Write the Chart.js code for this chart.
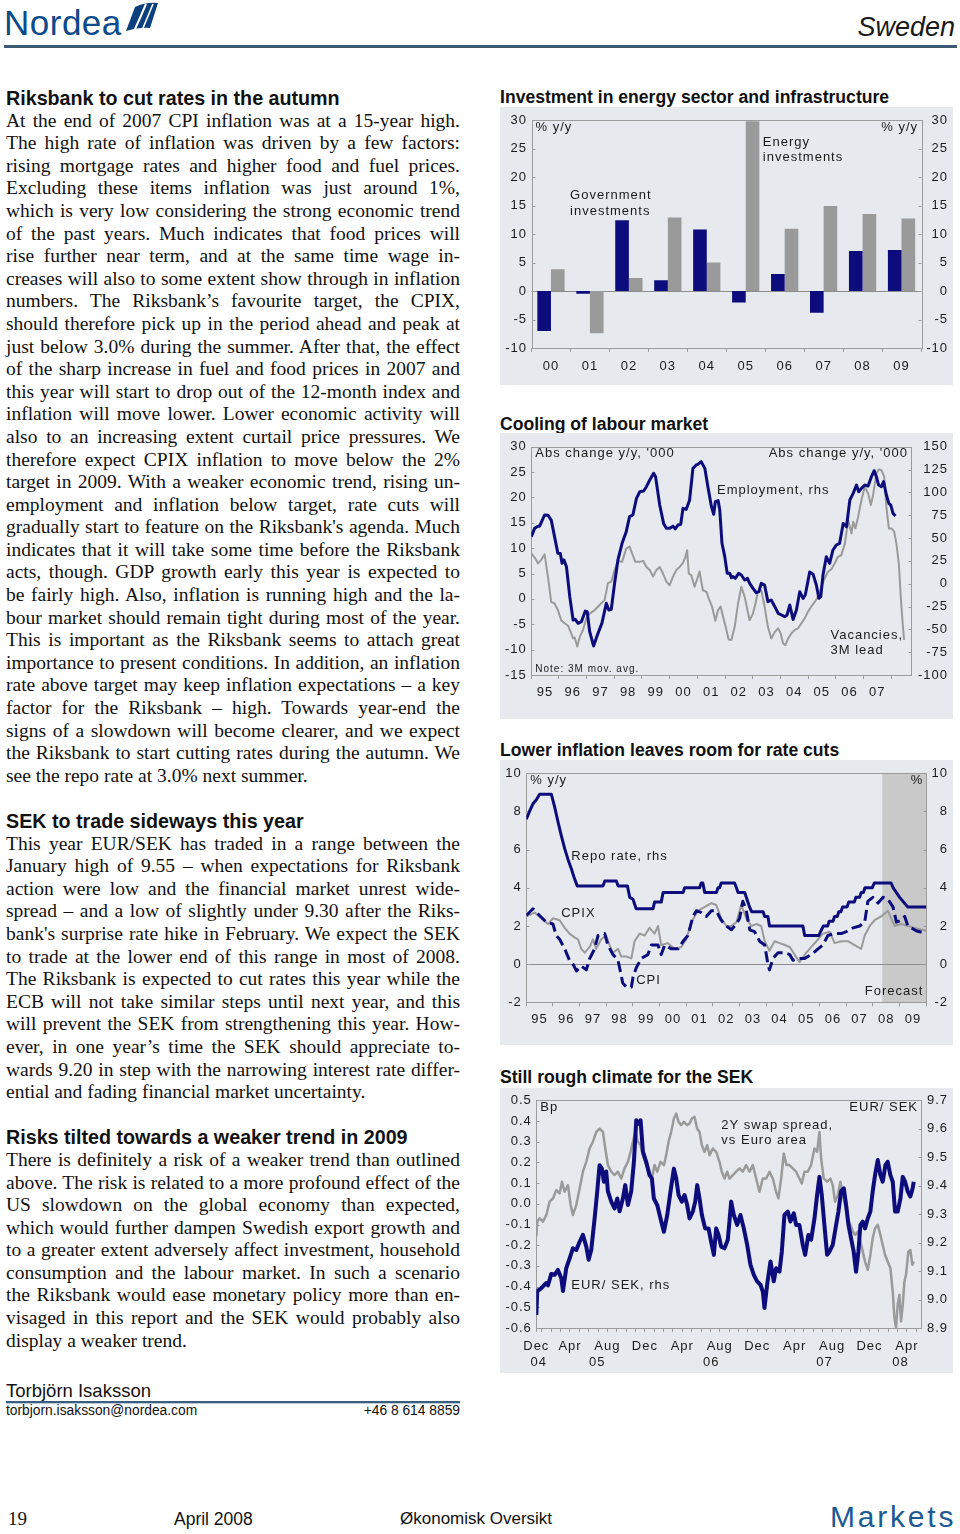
<!DOCTYPE html>
<html>
<head>
<meta charset="utf-8">
<script src="https://cdn.jsdelivr.net/npm/chart.js"></script>
<style>
  body { margin: 0; width: 960px; height: 1534px; background: #fff; position: relative; overflow: hidden; }
  .abs { position: absolute; white-space: nowrap; }
  #col { position: absolute; left: 6px; top: 87px; width: 454px; color: #111;
         font: 19.5px/22.6px "Liberation Serif", "Times New Roman", serif; }
  #col .h { font: bold 19.7px/22.6px "Liberation Sans", Arial, sans-serif; }
  #col .j { text-align: justify; text-align-last: justify; }
  #col .gap { height: 22.6px; }
  .panel { position: absolute; left: 500px; width: 453px; background: #e6e9ee; }
  .panel canvas { display: block; }
  .ctitle { position: absolute; left: 500px; font: bold 17.6px/22px "Liberation Sans", Arial, sans-serif; color: #111; }
  .sans { font-family: "Liberation Sans", Arial, sans-serif; }
</style>
</head>
<body>

<!-- header -->
<div class="abs sans" style="left:4px;top:6px;font-size:35px;line-height:34px;color:#0b4a8b;letter-spacing:0.5px">Nordea</div>
<svg class="abs" style="left:124px;top:2px" width="36" height="32" viewBox="0 0 36 32">
  <path d="M2 29 L11 5 Q22 0 34 1 L26 26 Q14 25 2 29 Z" fill="#0b3f7e"/>
  <path d="M11 27 Q17 14 22 2" stroke="#fff" stroke-width="2" fill="none"/>
  <path d="M19 26 Q24 14 29 2" stroke="#fff" stroke-width="1.6" fill="none"/>
</svg>
<div class="abs sans" style="right:5px;top:12px;font-size:27px;line-height:30px;font-style:italic;color:#1a1a1a">Sweden</div>
<div class="abs" style="left:4px;top:45px;width:953px;height:3px;background:#3d5b76"></div>

<!-- text column -->
<div id="col">
  <div class="h">Riksbank to cut rates in the autumn</div>
  <div class="j">At the end of 2007 CPI inflation was at a 15-year high.</div>
  <div class="j">The high rate of inflation was driven by a few factors:</div>
  <div class="j">rising mortgage rates and higher food and fuel prices.</div>
  <div class="j">Excluding these items inflation was just around 1%,</div>
  <div class="j">which is very low considering the strong economic trend</div>
  <div class="j">of the past years. Much indicates that food prices will</div>
  <div class="j">rise further near term, and at the same time wage in-</div>
  <div class="j">creases will also to some extent show through in inflation</div>
  <div class="j">numbers. The Riksbank’s favourite target, the CPIX,</div>
  <div class="j">should therefore pick up in the period ahead and peak at</div>
  <div class="j">just below 3.0% during the summer. After that, the effect</div>
  <div class="j">of the sharp increase in fuel and food prices in 2007 and</div>
  <div class="j">this year will start to drop out of the 12-month index and</div>
  <div class="j">inflation will move lower. Lower economic activity will</div>
  <div class="j">also to an increasing extent curtail price pressures. We</div>
  <div class="j">therefore expect CPIX inflation to move below the 2%</div>
  <div class="j">target in 2009. With a weaker economic trend, rising un-</div>
  <div class="j">employment and inflation below target, rate cuts will</div>
  <div class="j">gradually start to feature on the Riksbank's agenda. Much</div>
  <div class="j">indicates that it will take some time before the Riksbank</div>
  <div class="j">acts, though. GDP growth early this year is expected to</div>
  <div class="j">be fairly high. Also, inflation is running high and the la-</div>
  <div class="j">bour market should remain tight during most of the year.</div>
  <div class="j">This is important as the Riksbank seems to attach great</div>
  <div class="j">importance to present conditions. In addition, an inflation</div>
  <div class="j">rate above target may keep inflation expectations – a key</div>
  <div class="j">factor for the Riksbank – high. Towards year-end the</div>
  <div class="j">signs of a slowdown will become clearer, and we expect</div>
  <div class="j">the Riksbank to start cutting rates during the autumn. We</div>
  <div>see the repo rate at 3.0% next summer.</div>
  <div class="gap"></div>
  <div class="h">SEK to trade sideways this year</div>
  <div class="j">This year EUR/SEK has traded in a range between the</div>
  <div class="j">January high of 9.55 – when expectations for Riksbank</div>
  <div class="j">action were low and the financial market unrest wide-</div>
  <div class="j">spread – and a low of slightly under 9.30 after the Riks-</div>
  <div class="j">bank's surprise rate hike in February. We expect the SEK</div>
  <div class="j">to trade at the lower end of this range in most of 2008.</div>
  <div class="j">The Riksbank is expected to cut rates this year while the</div>
  <div class="j">ECB will not take similar steps until next year, and this</div>
  <div class="j">will prevent the SEK from strengthening this year. How-</div>
  <div class="j">ever, in one year’s time the SEK should appreciate to-</div>
  <div class="j">wards 9.20 in step with the narrowing interest rate differ-</div>
  <div>ential and fading financial market uncertainty.</div>
  <div class="gap"></div>
  <div class="h">Risks tilted towards a weaker trend in 2009</div>
  <div class="j">There is definitely a risk of a weaker trend than outlined</div>
  <div class="j">above. The risk is related to a more profound effect of the</div>
  <div class="j">US slowdown on the global economy than expected,</div>
  <div class="j">which would further dampen Swedish export growth and</div>
  <div class="j">to a greater extent adversely affect investment, household</div>
  <div class="j">consumption and the labour market. In such a scenario</div>
  <div class="j">the Riksbank would ease monetary policy more than en-</div>
  <div class="j">visaged in this report and the SEK would probably also</div>
  <div>display a weaker trend.</div>
</div>

<!-- author -->
<div class="abs sans" style="left:6px;top:1380px;font-size:18.5px;line-height:22px;color:#111">Torbjörn Isaksson</div>
<div class="abs" style="left:6px;top:1401px;width:454px;height:2px;background:#3b5e7e"></div>
<div class="abs" style="left:6px;top:1403px;width:454px;height:1px;background:#b9cde0"></div>
<div class="abs sans" style="left:6px;top:1403px;font-size:13.8px;line-height:16px;color:#111">torbjorn.isaksson@nordea.com</div>
<div class="abs sans" style="left:300px;width:160px;text-align:right;top:1403px;font-size:13.8px;line-height:16px;color:#111">+46 8 614 8859</div>

<!-- charts -->
<div class="ctitle" style="top:86px">Investment in energy sector and infrastructure</div>
<div class="panel" style="top:107px;height:278px"><canvas id="c1" width="453" height="278"></canvas></div>

<div class="ctitle" style="top:413px">Cooling of labour market</div>
<div class="panel" style="top:433px;height:286px"><canvas id="c2" width="453" height="286"></canvas></div>

<div class="ctitle" style="top:739px">Lower inflation leaves room for rate cuts</div>
<div class="panel" style="top:760px;height:285px"><canvas id="c3" width="453" height="285"></canvas></div>

<div class="ctitle" style="top:1066px">Still rough climate for the SEK</div>
<div class="panel" style="top:1088px;height:285px"><canvas id="c4" width="453" height="285"></canvas></div>

<!-- footer -->
<div class="abs" style="left:8px;top:1507px;font:19px/24px 'Liberation Serif',serif;color:#111">19</div>
<div class="abs sans" style="left:174px;top:1508px;font-size:17.5px;line-height:22px;color:#111">April 2008</div>
<div class="abs sans" style="left:400px;top:1508px;font-size:17px;line-height:22px;color:#111">Økonomisk Oversikt</div>
<div class="abs sans" style="left:830px;top:1500px;font-size:30px;line-height:34px;letter-spacing:2.8px;color:#1d5a93">Markets</div>

<script>
// ---------- data ----------
// Investment in energy sector and infrastructure (% y/y)
const invYears = ['00', '01', '02', '03', '04', '05', '06', '07', '08', '09'];
const govInvest = [-7.0, -0.5, 12.4, 1.9, 10.8, -2.0, 3.0, -3.8, 7.0, 7.2];
const energyInvest = [3.8, -7.4, 2.3, 12.9, 5.0, 29.8, 10.9, 14.9, 13.5, 12.7];
const invTicks = [-10, -5, 0, 5, 10, 15, 20, 25, 30];

// Cooling of labour market: [year, value]
const employment = [
  [1995.00, 51.5], [1995.12, 60.6], [1995.24, 63], [1995.30, 63], [1995.48, 75.2], [1995.60, 75], [1995.72, 69.7],
  [1995.84, 51.5], [1995.96, 33.2], [1996.05, 33], [1996.11, 22.3], [1996.18, 26], [1996.27, 18.6], [1996.39, -14.2],
  [1996.51, -39.8], [1996.59, -39], [1996.69, -43.4], [1996.81, -41.6], [1996.95, -30], [1997.02, -30.7], [1997.11, -52.6],
  [1997.25, -68.2], [1997.41, -54.4], [1997.55, -43.4], [1997.71, -21.5], [1997.80, -28.8], [1997.89, -28], [1998.01, 0.4],
  [1998.13, 26], [1998.28, 44.2], [1998.43, 57], [1998.55, 73.4], [1998.67, 75.2], [1998.80, 93.4], [1998.92, 100.7],
  [1999.06, 101.5], [1999.16, 106.2], [1999.28, 113.5], [1999.42, 120.8], [1999.49, 117.2], [1999.64, 86.1], [1999.78, 66],
  [1999.88, 60.6], [2000.00, 60.6], [2000.12, 63], [2000.20, 60], [2000.30, 64.2], [2000.40, 65], [2000.48, 82.5],
  [2000.60, 81.4], [2000.72, 91.6], [2000.84, 126.3], [2000.96, 130], [2001.02, 130.7], [2001.14, 133.6], [2001.27, 126.3],
  [2001.39, 104.4], [2001.51, 84.3], [2001.59, 76], [2001.65, 89.8], [2001.75, 91], [2001.81, 80.7], [2001.89, 44.2],
  [2001.99, 29.6], [2002.08, 11.3], [2002.17, 11.3], [2002.23, 6.6], [2002.29, 7.7], [2002.37, 5.9], [2002.49, 11.3],
  [2002.59, 9.5], [2002.71, 4], [2002.81, 5.9], [2002.89, 0.4], [2003.01, -5.1], [2003.13, -9.9], [2003.22, -8.8],
  [2003.31, 0.4], [2003.43, -1.5], [2003.55, -19.7], [2003.67, -17.9], [2003.80, -25.2], [2003.92, -32.5], [2004.04, -34.3],
  [2004.16, -36.1], [2004.24, -34.3], [2004.34, -23.4], [2004.46, -39.1], [2004.58, -28.8], [2004.70, -8.8], [2004.82, -16.1],
  [2004.90, -12.4], [2005.06, 12.9], [2005.18, 10.4], [2005.30, -1.5], [2005.39, -16], [2005.46, -14.2], [2005.54, 9.5],
  [2005.66, 29.6], [2005.78, 22.3], [2005.90, 36.9], [2006.02, 42.3], [2006.14, 44.2], [2006.27, 66], [2006.39, 62.4],
  [2006.51, 91.6], [2006.63, 98.9], [2006.75, 108], [2006.83, 100.7], [2006.93, 104.4], [2007.05, 108], [2007.17, 107],
  [2007.29, 117.2], [2007.39, 123.7], [2007.47, 117.2], [2007.55, 108], [2007.65, 106.2], [2007.73, 111.7], [2007.83, 97.1],
  [2007.92, 88], [2007.99, 86.1], [2008.07, 77], [2008.16, 74.1]
];
const vacancies = [
  [1995.00, 9.0], [1995.14, 8.0], [1995.24, 7.0], [1995.36, 7.7], [1995.48, 8.8], [1995.60, 4.4], [1995.72, -0.6],
  [1995.84, -0.9], [1995.96, -2.2], [1996.08, -4.2], [1996.20, -4.8], [1996.33, -5.3], [1996.42, -6.5], [1996.51, -7.8],
  [1996.57, -7.6], [1996.66, -9.4], [1996.75, -7.5], [1996.87, -6.1], [1996.99, -3.8], [1997.11, -2.9], [1997.29, -2.2],
  [1997.47, -1.2], [1997.65, -0.2], [1997.77, 3.1], [1997.89, 3.4], [1998.01, 5.7], [1998.13, 7.5], [1998.28, 7.3],
  [1998.43, 9.9], [1998.55, 10.3], [1998.67, 8.6], [1998.76, 7.3], [1998.92, 7.3], [1999.04, 7.5], [1999.16, 6.3],
  [1999.28, 5.7], [1999.40, 4.4], [1999.52, 5.7], [1999.64, 6.3], [1999.76, 5.0], [1999.88, 3.4], [2000.00, 2.7],
  [2000.12, 4.4], [2000.24, 5.7], [2000.36, 6.3], [2000.48, 7.1], [2000.57, 8.3], [2000.63, 9.6], [2000.69, 5.0],
  [2000.78, 4.7], [2000.90, 2.4], [2001.00, 4.0], [2001.08, 5.4], [2001.20, 1.7], [2001.33, 1.4], [2001.41, 0.1],
  [2001.53, -1.5], [2001.65, -4.3], [2001.75, -2.2], [2001.84, -1.5], [2001.93, -3.5], [2002.05, -6.1], [2002.13, -8.0],
  [2002.23, -8.1], [2002.35, -5.5], [2002.47, -0.9], [2002.59, 2.4], [2002.71, 0.4], [2002.81, -2.2], [2002.89, -4.2],
  [2003.01, -2.9], [2003.10, -0.9], [2003.19, 1.4], [2003.31, 1.7], [2003.43, -1.5], [2003.55, -5.5], [2003.67, -7.8],
  [2003.80, -6.5], [2003.92, -5.8], [2004.01, -6.8], [2004.10, -8.8], [2004.18, -9.1], [2004.28, -7.8], [2004.40, -6.8],
  [2004.52, -6.1], [2004.64, -5.8], [2004.76, -4.8], [2004.88, -3.8], [2005.00, -2.5], [2005.12, -1.5], [2005.24, -0.6],
  [2005.36, 0.4], [2005.48, 2.4], [2005.60, 4.0], [2005.72, 5.4], [2005.84, 5.8], [2005.96, 7.0], [2006.08, 8.3],
  [2006.20, 8.6], [2006.33, 10.9], [2006.45, 15.5], [2006.57, 12.9], [2006.63, 15.2], [2006.71, 13.9], [2006.81, 16.2],
  [2006.93, 19.5], [2007.05, 22.1], [2007.17, 20.8], [2007.27, 18.5], [2007.35, 20.5], [2007.47, 24.7], [2007.55, 25.5],
  [2007.65, 25.4], [2007.75, 24.1], [2007.83, 18.2], [2007.92, 13.9], [2008.01, 13.9], [2008.11, 13.3], [2008.19, 11.0],
  [2008.28, 7.0], [2008.35, 0.4], [2008.41, -4.2], [2008.47, -8.1]
];
const labourLeftTicks = [-15, -10, -5, 0, 5, 10, 15, 20, 25, 30];
const labourRightTicks = [-100, -75, -50, -25, 0, 25, 50, 75, 100, 125, 150];
const labourYearTicks = [1995, 1996, 1997, 1998, 1999, 2000, 2001, 2002, 2003, 2004, 2005, 2006, 2007, 2008];
const labourYearLabels = ['95', '96', '97', '98', '99', '00', '01', '02', '03', '04', '05', '06', '07', ''];

// Lower inflation leaves room for rate cuts: [year, value]
const repoRate = [
  [1995.00, 7.6], [1995.12, 8.0], [1995.25, 8.4], [1995.37, 8.6], [1995.50, 8.9], [1995.94, 8.9],
  [1996.06, 8.25], [1996.19, 7.45], [1996.31, 6.75], [1996.44, 6.05], [1996.56, 5.5], [1996.69, 5.0], [1996.79, 4.55], [1996.91, 4.1],
  [1997.88, 4.1], [1997.94, 4.35], [1998.38, 4.35], [1998.44, 4.1], [1998.79, 4.1], [1998.88, 3.5], [1999.00, 3.4], [1999.12, 2.9],
  [1999.75, 2.9], [1999.81, 3.25], [2000.06, 3.25], [2000.13, 3.75], [2000.88, 3.75], [2000.94, 4.0], [2001.50, 4.0], [2001.56, 4.25],
  [2001.62, 4.25], [2001.69, 3.75], [2002.13, 3.75], [2002.19, 4.0], [2002.25, 4.0], [2002.31, 4.25], [2002.81, 4.25], [2002.88, 4.0],
  [2002.94, 3.75], [2003.19, 3.75], [2003.25, 3.5], [2003.37, 3.0], [2003.45, 2.75], [2003.88, 2.75], [2003.94, 2.5], [2004.06, 2.5],
  [2004.12, 2.0], [2005.37, 2.0], [2005.44, 1.5], [2005.97, 1.5], [2006.05, 1.75], [2006.14, 2.0], [2006.30, 2.0], [2006.36, 2.25],
  [2006.50, 2.25], [2006.56, 2.5], [2006.66, 2.5], [2006.72, 2.75], [2006.80, 2.75], [2006.86, 3.0], [2007.03, 3.0], [2007.09, 3.25],
  [2007.30, 3.25], [2007.36, 3.5], [2007.50, 3.5], [2007.56, 3.75], [2007.64, 3.75], [2007.70, 4.0], [2007.97, 4.0], [2008.05, 4.25],
  [2008.68, 4.25], [2008.76, 4.0], [2008.88, 3.75], [2009.00, 3.5], [2009.15, 3.25], [2009.30, 3.0], [2010.00, 3.0]
];
const cpi = [
  [1995.00, 2.55], [1995.25, 2.9], [1995.50, 2.55], [1995.75, 2.2], [1996.00, 2.1], [1996.12, 1.5], [1996.25, 1.3],
  [1996.44, 0.8], [1996.62, 0.2], [1996.75, 0.0], [1996.88, -0.35], [1997.06, -0.1], [1997.25, -0.3], [1997.38, 0.3],
  [1997.56, 0.8], [1997.69, 1.5], [1997.94, 1.6], [1998.06, 1.0], [1998.25, 0.5], [1998.44, 0.2], [1998.62, -1.0],
  [1998.75, -1.2], [1998.94, -1.2], [1999.00, -0.7], [1999.12, -0.2], [1999.31, 0.3], [1999.56, 0.5], [1999.69, 1.0],
  [1999.94, 1.0], [2000.06, 0.5], [2000.19, 1.0], [2000.44, 0.8], [2000.69, 0.8], [2000.88, 1.2], [2001.06, 1.5],
  [2001.25, 2.5], [2001.38, 2.8], [2001.56, 2.7], [2001.75, 2.5], [2001.94, 2.8], [2002.12, 2.8], [2002.31, 2.3],
  [2002.50, 2.0], [2002.69, 1.8], [2002.88, 2.1], [2003.00, 2.4], [2003.12, 3.3], [2003.25, 2.8], [2003.38, 1.8],
  [2003.56, 1.7], [2003.75, 1.2], [2003.94, 1.0], [2004.06, 0.0], [2004.12, -0.3], [2004.25, 0.3], [2004.44, 0.6],
  [2004.69, 0.6], [2004.88, 0.5], [2005.00, 0.2], [2005.19, 0.3], [2005.44, 0.3], [2005.69, 0.5], [2005.94, 0.8],
  [2006.12, 1.0], [2006.31, 1.5], [2006.56, 1.6], [2006.81, 1.6], [2007.00, 1.7], [2007.25, 1.9], [2007.50, 2.0],
  [2007.69, 2.2], [2007.81, 3.3], [2008.00, 3.5], [2008.19, 3.2], [2008.38, 3.5], [2008.56, 3.4], [2008.75, 3.0],
  [2008.88, 2.2], [2009.06, 2.3], [2009.19, 2.5], [2009.31, 2.0], [2009.44, 1.9], [2009.62, 1.75], [2009.88, 1.65]
];
const cpix = [
  [1995.00, 2.5], [1995.31, 2.7], [1995.56, 2.4], [1995.81, 2.1], [1996.00, 2.4], [1996.25, 2.3], [1996.44, 1.9],
  [1996.62, 1.6], [1996.81, 1.4], [1996.94, 1.3], [1997.06, 0.8], [1997.19, 0.6], [1997.38, 0.9], [1997.50, 1.3],
  [1997.62, 0.8], [1997.81, 1.3], [1998.00, 1.5], [1998.12, 1.0], [1998.25, 0.6], [1998.44, 0.8], [1998.56, 0.4],
  [1998.75, 0.4], [1998.94, 0.3], [1999.06, 1.2], [1999.25, 1.6], [1999.44, 1.5], [1999.62, 1.9], [1999.81, 1.6],
  [1999.94, 2.0], [2000.06, 1.0], [2000.31, 1.1], [2000.56, 0.8], [2000.81, 0.9], [2001.00, 1.3], [2001.19, 2.2],
  [2001.44, 2.8], [2001.69, 3.0], [2001.94, 3.2], [2002.12, 3.1], [2002.31, 2.4], [2002.50, 2.0], [2002.69, 2.0],
  [2002.88, 2.2], [2003.06, 3.1], [2003.25, 2.4], [2003.44, 2.0], [2003.62, 2.1], [2003.81, 2.0], [2003.94, 1.2],
  [2004.12, 0.7], [2004.31, 1.2], [2004.50, 1.1], [2004.69, 1.0], [2004.88, 0.9], [2005.06, 0.5], [2005.25, 0.1],
  [2005.44, 0.5], [2005.62, 0.8], [2005.88, 1.2], [2006.12, 1.6], [2006.38, 1.7], [2006.56, 1.1], [2006.81, 1.2],
  [2007.06, 1.2], [2007.31, 1.0], [2007.56, 0.8], [2007.69, 1.5], [2007.88, 2.0], [2008.06, 2.3], [2008.31, 2.5],
  [2008.56, 2.8], [2008.81, 2.0], [2009.06, 2.1], [2009.31, 2.0], [2009.56, 1.9], [2010.00, 1.75]
];
const forecastStart = 2008.35;
const inflTicks = [-2, 0, 2, 4, 6, 8, 10];
const inflYearTicks = [1995, 1996, 1997, 1998, 1999, 2000, 2001, 2002, 2003, 2004, 2005, 2006, 2007, 2008, 2009, 2010];
const inflYearLabels = ['95', '96', '97', '98', '99', '00', '01', '02', '03', '04', '05', '06', '07', '08', '09', ''];

// Still rough climate for the SEK: [months since mid-Dec 2004, value]
const eurSek = [
  [0, 8.946], [0.1, 9.03], [0.36, 9.035], [0.71, 9.046], [1.07, 9.058], [1.25, 9.05], [1.6, 9.09], [1.96, 9.087],
  [2.31, 9.104], [2.67, 9.075], [2.85, 9.03], [3.2, 9.11], [3.56, 9.145], [3.91, 9.18], [4.27, 9.174], [4.63, 9.203],
  [4.98, 9.227], [5.34, 9.186], [5.59, 9.14], [5.87, 9.174], [6.23, 9.285], [6.51, 9.38], [6.76, 9.472], [7.01, 9.46],
  [7.22, 9.414], [7.47, 9.45], [7.65, 9.38], [8.01, 9.344], [8.36, 9.32], [8.65, 9.355], [8.9, 9.31], [9.25, 9.355],
  [9.5, 9.402], [9.79, 9.332], [10.14, 9.38], [10.43, 9.484], [10.68, 9.63], [10.93, 9.618], [11.14, 9.63], [11.39, 9.52],
  [11.74, 9.484], [12.1, 9.437], [12.35, 9.425], [12.56, 9.355], [12.92, 9.332], [13.35, 9.274], [13.63, 9.238], [13.99, 9.297],
  [14.34, 9.38], [14.7, 9.46], [14.95, 9.425], [15.2, 9.367], [15.55, 9.344], [15.84, 9.367], [16.12, 9.332], [16.37, 9.285],
  [16.73, 9.31], [16.98, 9.344], [17.19, 9.402], [17.44, 9.355], [17.69, 9.297], [18.04, 9.25], [18.4, 9.25], [18.68, 9.203],
  [18.97, 9.157], [19.22, 9.25], [19.47, 9.227], [19.75, 9.186], [20.11, 9.18], [20.46, 9.21], [20.82, 9.344], [21.1, 9.297],
  [21.46, 9.262], [21.81, 9.297], [22.17, 9.25], [22.53, 9.192], [22.88, 9.122], [23.24, 9.087], [23.59, 9.064], [23.95, 9.052],
  [24.2, 9.028], [24.38, 8.97], [24.66, 9.052], [25.02, 9.134], [25.37, 9.064], [25.62, 9.11], [25.98, 9.098], [26.23, 9.168],
  [26.51, 9.297], [26.87, 9.309], [27.15, 9.274], [27.51, 9.303], [27.76, 9.262], [28.11, 9.262], [28.47, 9.192], [28.72, 9.157],
  [29.07, 9.227], [29.36, 9.21], [29.72, 9.285], [30.0, 9.367], [30.25, 9.431], [30.5, 9.367], [30.78, 9.262], [31.07, 9.157],
  [31.32, 9.168], [31.67, 9.192], [32.03, 9.262], [32.28, 9.309], [32.56, 9.38], [32.85, 9.391], [33.1, 9.332], [33.35, 9.262],
  [33.63, 9.215], [33.91, 9.168], [34.16, 9.098], [34.41, 9.168], [34.63, 9.262], [34.88, 9.274], [35.12, 9.25], [35.41, 9.285],
  [35.69, 9.309], [35.94, 9.38], [36.19, 9.437], [36.48, 9.49], [36.76, 9.437], [37.01, 9.414], [37.3, 9.472], [37.54, 9.484],
  [37.83, 9.437], [38.08, 9.414], [38.33, 9.309], [38.61, 9.309], [38.9, 9.355], [39.15, 9.431], [39.4, 9.414], [39.68, 9.38],
  [39.96, 9.362], [40.21, 9.391], [40.32, 9.414]
];
const swapSpread = [
  [0, -0.158], [0.1, -0.086], [0.36, -0.07], [0.71, -0.086], [1.07, -0.054], [1.42, 0.01], [1.78, 0.026], [2.14, 0.066],
  [2.49, 0.05], [2.74, 0.107], [3.02, 0.058], [3.38, 0.09], [3.67, -0.006], [3.91, -0.054], [4.27, -0.006], [4.63, 0.074],
  [4.98, 0.155], [5.34, 0.203], [5.69, 0.267], [6.05, 0.3], [6.41, 0.347], [6.76, 0.363], [7.12, 0.347], [7.37, 0.267],
  [7.65, 0.187], [8.01, 0.155], [8.36, 0.139], [8.72, 0.155], [9.07, 0.122], [9.43, 0.171], [9.79, 0.203], [10.07, 0.251],
  [10.32, 0.3], [10.57, 0.347], [10.85, 0.3], [11.14, 0.283], [11.39, 0.235], [11.74, 0.187], [12.1, 0.155], [12.35, 0.122],
  [12.63, 0.187], [12.92, 0.155], [13.27, 0.203], [13.63, 0.187], [13.88, 0.235], [14.13, 0.3], [14.41, 0.347], [14.7, 0.412],
  [14.95, 0.436], [15.2, 0.396], [15.48, 0.38], [15.77, 0.396], [16.12, 0.38], [16.37, 0.388], [16.62, 0.412], [16.9, 0.42],
  [17.19, 0.363], [17.44, 0.347], [17.69, 0.283], [17.97, 0.251], [18.26, 0.283], [18.51, 0.235], [18.86, 0.267], [19.22, 0.251],
  [19.57, 0.203], [19.82, 0.155], [20.11, 0.122], [20.39, 0.155], [20.64, 0.122], [21.0, 0.139], [21.35, 0.155], [21.71, 0.171],
  [22.06, 0.155], [22.42, 0.187], [22.78, 0.155], [23.13, 0.187], [23.49, 0.122], [23.84, 0.058], [24.2, 0.122], [24.56, 0.122],
  [24.91, 0.155], [25.27, 0.122], [25.62, 0.058], [25.87, 0.026], [26.16, 0.122], [26.44, 0.243], [26.73, 0.187], [27.05, 0.187],
  [27.4, 0.171], [27.76, 0.155], [28.11, 0.122], [28.36, 0.098], [28.65, 0.155], [29.0, 0.155], [29.36, 0.187], [29.72, 0.267],
  [30.0, 0.251], [30.25, 0.347], [30.43, 0.219], [30.71, 0.122], [31.07, 0.107], [31.42, 0.122], [31.67, 0.09], [31.92, 0.01],
  [32.21, 0.042], [32.49, 0.107], [32.74, 0.042], [32.99, -0.006], [33.27, -0.07], [33.56, -0.102], [33.81, -0.134], [34.06, -0.15],
  [34.34, -0.134], [34.63, -0.182], [34.88, -0.231], [35.12, -0.279], [35.41, -0.319], [35.69, -0.247], [35.94, -0.166], [36.19, -0.118],
  [36.48, -0.102], [36.76, -0.15], [37.01, -0.199], [37.26, -0.247], [37.54, -0.279], [37.83, -0.311], [38.08, -0.423], [38.26, -0.552],
  [38.43, -0.6], [38.61, -0.488], [38.79, -0.44], [38.97, -0.568], [39.15, -0.488], [39.33, -0.375], [39.5, -0.343], [39.75, -0.231],
  [39.96, -0.223], [40.18, -0.295], [40.32, -0.279]
];
const swapTicks = [-0.6, -0.5, -0.4, -0.3, -0.2, -0.1, 0.0, 0.1, 0.2, 0.3, 0.4, 0.5];
const sekTicks = [8.9, 9.0, 9.1, 9.2, 9.3, 9.4, 9.5, 9.6, 9.7];
const sekLabelMonths = [0, 4, 8, 12, 16, 20, 24, 28, 32, 36, 40];
const sekMonthLabels = ['Dec', 'Apr', 'Aug', 'Dec', 'Apr', 'Aug', 'Dec', 'Apr', 'Aug', 'Dec', 'Apr'];
const sekYearAt = [0.26, 6.5, 18.7, 30.8, 38.9];
const sekYearLabels = ['04', '05', '06', '07', '08'];

// ---------- styling ----------
const navy = '#0c0c7c';
const gray = '#9a9a9a';
const axisCol = '#9c9c9c';
const ink = '#1b1b1b';
const FONT = '"Liberation Sans", Arial, sans-serif';

Chart.defaults.font.family = FONT;
Chart.defaults.font.size = 13;
Chart.defaults.color = ink;
Chart.defaults.animation = false;
Chart.defaults.plugins.legend.display = false;
Chart.defaults.plugins.tooltip.enabled = false;

const toXY = arr => arr.map(p => ({ x: p[0], y: p[1] }));
const fixW = w => s => { s.width = w; };
const fixH = h => s => { s.height = h; };

function yAxis(pos, min, max, ticks, width, fmt) {
    return {
        type: 'linear', position: pos, min: min, max: max,
        afterBuildTicks: s => { s.ticks = ticks.map(v => ({ value: v })); },
        afterFit: fixW(width),
        grid: { display: false, drawTicks: false },
        border: { display: false },
        ticks: { padding: 4.5, crossAlign: pos === 'right' ? 'far' : 'near', callback: fmt || (v => v) }
    };
}

function lineSet(data, color, width, axis, dash) {
    return {
        data: toXY(data), borderColor: color, borderWidth: width, yAxisID: axis,
        pointRadius: 0, tension: 0, borderJoinStyle: 'round', borderDash: dash || []
    };
}

// letter-spaced chart text like the original
const spacing = { id: 'spacing', beforeDraw(c) { c.ctx.letterSpacing = '1px'; } };

// plot frame, zero line, forecast shading, inner ticks on the value axes
const frame = {
    id: 'frame',
    beforeDatasetsDraw(c, args, o) {
        const { ctx, chartArea: a } = c;
        ctx.save();
        if (o.shadeFrom !== undefined) {
            const x0 = c.scales.x.getPixelForValue(o.shadeFrom);
            ctx.fillStyle = '#c9c9c9';
            ctx.fillRect(x0, a.top, a.right - x0, a.bottom - a.top);
        }
        ctx.strokeStyle = '#8c8c8c';
        ctx.lineWidth = 1;
        if (o.zeroLine) {
            const y0 = Math.round(c.scales.y.getPixelForValue(0)) + 0.5;
            ctx.beginPath(); ctx.moveTo(a.left, y0); ctx.lineTo(a.right, y0); ctx.stroke();
        }
        ctx.strokeStyle = axisCol;
        ctx.strokeRect(Math.round(a.left) + 0.5, Math.round(a.top) + 0.5, Math.round(a.right - a.left), Math.round(a.bottom - a.top));
        ['y', 'y1'].forEach(id => {
            const s = c.scales[id];
            if (!s) return;
            const x = Math.round(s.position === 'left' ? a.left : a.right) + 0.5;
            const d = s.position === 'left' ? 3 : -3;
            s.ticks.forEach(t => {
                const y = Math.round(s.getPixelForValue(t.value)) + 0.5;
                ctx.beginPath(); ctx.moveTo(x, y); ctx.lineTo(x + d, y); ctx.stroke();
            });
        });
        ctx.restore();
    }
};

// text labels inside the plot
const notes = {
    id: 'notes',
    afterDatasetsDraw(c, args, o) {
        const { ctx, chartArea: a } = c;
        ctx.save();
        ctx.fillStyle = ink;
        ctx.textBaseline = 'middle';
        (o.items || []).forEach(n => {
            ctx.font = (n.size || 13) + 'px ' + FONT;
            ctx.textAlign = n.align || 'left';
            const x = n.x === 'left' ? a.left + 4 : n.x === 'right' ? a.right - 3 : c.scales.x.getPixelForValue(n.x);
            const y = n.y === 'top' ? a.top + 7 : c.scales[n.axis || 'y'].getPixelForValue(n.y);
            ctx.fillText(n.text, x, y);
        });
        ctx.restore();
    }
};

const xGrid = { display: true, drawOnChartArea: false, drawTicks: true, tickLength: 4, color: axisCol };

// ---------- chart 1: bars ----------
new Chart(document.getElementById('c1'), {
    type: 'bar',
    data: {
        labels: invYears,
        datasets: [
            { data: govInvest, backgroundColor: navy, yAxisID: 'y' },
            { data: energyInvest, backgroundColor: gray, yAxisID: 'y' }
        ]
    },
    options: {
        responsive: false,
        layout: { padding: { top: 13, right: 5, left: 0, bottom: 0 } },
        datasets: { bar: { categoryPercentage: 0.7, barPercentage: 1 } },
        scales: {
            x: {
                offset: true, afterFit: fixH(37),
                grid: Object.assign({ offset: true }, xGrid), border: { display: false },
                ticks: { padding: 7, maxRotation: 0, minRotation: 0, autoSkip: false }
            },
            y: yAxis('left', -10, 30, invTicks, 31.5),
            y1: yAxis('right', -10, 30, invTicks, 27)
        },
        plugins: {
            frame: { zeroLine: true },
            notes: { items: [
                { text: '% y/y', x: 'left', y: 'top' },
                { text: '% y/y', x: 'right', y: 'top', align: 'right' },
                { text: 'Government', x: 0.49, y: 16.7 },
                { text: 'investments', x: 0.49, y: 14.0 },
                { text: 'Energy', x: 5.44, y: 26.1 },
                { text: 'investments', x: 5.44, y: 23.4 }
            ] }
        }
    },
    plugins: [spacing, frame, notes]
});

// ---------- chart 2: labour market ----------
new Chart(document.getElementById('c2'), {
    type: 'line',
    data: {
        datasets: [
            lineSet(employment, navy, 3, 'y1'),
            lineSet(vacancies, gray, 2, 'y')
        ]
    },
    options: {
        responsive: false,
        layout: { padding: { top: 13.7, right: 5, left: 0, bottom: 0 } },
        scales: {
            x: {
                type: 'linear', min: 1995, max: 2008.72,
                afterBuildTicks: s => { s.ticks = labourYearTicks.map(v => ({ value: v })); },
                afterFit: fixH(44), grid: xGrid, border: { display: false },
                ticks: { padding: 6, labelOffset: 13.8, maxRotation: 0, minRotation: 0, autoSkip: false,
                         callback: (v, i) => labourYearLabels[i] }
            },
            y: yAxis('left', -15, 30, labourLeftTicks, 31.3),
            y1: yAxis('right', -100, 150, labourRightTicks, 37)
        },
        plugins: {
            frame: {},
            notes: { items: [
                { text: "Abs change y/y, '000", x: 'left', y: 'top' },
                { text: "Abs change y/y, '000", x: 'right', y: 'top', align: 'right' },
                { text: 'Employment, rhs', x: 2001.71, y: 21.45 },
                { text: 'Vacancies,', x: 2005.81, y: -7.2 },
                { text: '3M lead', x: 2005.81, y: -10.1 },
                { text: 'Note: 3M mov. avg.', x: 'left', y: -13.9, size: 10 }
            ] }
        }
    },
    plugins: [spacing, frame, notes]
});

// ---------- chart 3: inflation and repo rate ----------
new Chart(document.getElementById('c3'), {
    type: 'line',
    data: {
        datasets: [
            lineSet(repoRate, navy, 3, 'y1'),
            lineSet(cpi, navy, 3, 'y', [11, 5]),
            lineSet(cpix, gray, 2, 'y')
        ]
    },
    options: {
        responsive: false,
        layout: { padding: { top: 13.3, right: 5, left: 0, bottom: 0 } },
        scales: {
            x: {
                type: 'linear', min: 1995, max: 2010,
                afterBuildTicks: s => { s.ticks = inflYearTicks.map(v => ({ value: v })); },
                afterFit: fixH(42.7), grid: xGrid, border: { display: false },
                ticks: { padding: 5.2, labelOffset: 13.3, maxRotation: 0, minRotation: 0, autoSkip: false,
                         callback: (v, i) => inflYearLabels[i] }
            },
            y: yAxis('left', -2, 10, inflTicks, 26.3),
            y1: yAxis('right', -2, 10, inflTicks, 21.7)
        },
        plugins: {
            frame: { zeroLine: true, shadeFrom: forecastStart },
            notes: { items: [
                { text: '% y/y', x: 'left', y: 'top' },
                { text: '%', x: 'right', y: 'top', align: 'right' },
                { text: 'Repo rate, rhs', x: 1996.69, y: 5.63 },
                { text: 'CPIX', x: 1996.31, y: 2.66 },
                { text: 'CPI', x: 1999.12, y: -0.87 },
                { text: 'Forecast', x: 'right', y: -1.45, align: 'right' }
            ] }
        }
    },
    plugins: [spacing, frame, notes]
});

// ---------- chart 4: EUR/SEK and swap spread ----------
const monthMarks = [0];
for (let k = 1; k <= 41; k++) monthMarks.push(k - 0.4);

new Chart(document.getElementById('c4'), {
    type: 'line',
    data: {
        datasets: [
            lineSet(eurSek, navy, 4, 'y1'),
            lineSet(swapSpread, gray, 2.5, 'y')
        ]
    },
    options: {
        responsive: false,
        layout: { padding: { top: 12, right: 5, left: 0, bottom: 0 } },
        scales: {
            x: {
                type: 'linear', min: 0, max: 41.1, weight: 0,
                afterBuildTicks: s => { s.ticks = monthMarks.map(v => ({ value: v })); },
                afterFit: fixH(27), grid: xGrid, border: { display: false },
                ticks: { padding: 6.2, maxRotation: 0, minRotation: 0, autoSkip: false,
                         callback: v => {
                             const i = sekLabelMonths.indexOf(Math.round(v + 0.4));
                             return i < 0 ? '' : sekMonthLabels[i];
                         } }
            },
            x2: {
                type: 'linear', position: 'bottom', min: 0, max: 41.1, weight: 1,
                afterBuildTicks: s => { s.ticks = sekYearAt.map(v => ({ value: v })); },
                afterFit: fixH(18), grid: { display: false, drawTicks: false }, border: { display: false },
                ticks: { padding: 0, maxRotation: 0, minRotation: 0, autoSkip: false,
                         callback: (v, i) => sekYearLabels[i] }
            },
            y: yAxis('left', -0.6, 0.5, swapTicks, 36.3, v => v.toFixed(1)),
            y1: yAxis('right', 8.9, 9.7, sekTicks, 27, v => v.toFixed(1))
        },
        plugins: {
            frame: {},
            notes: { items: [
                { text: 'Bp', x: 'left', y: 'top' },
                { text: 'EUR/ SEK', x: 'right', y: 'top', align: 'right' },
                { text: '2Y swap spread,', x: 19.77, y: 0.379 },
                { text: 'vs Euro area', x: 19.77, y: 0.306 },
                { text: 'EUR/ SEK, rhs', x: 3.74, y: -0.396 }
            ] }
        }
    },
    plugins: [spacing, frame, notes]
});
</script>
</body>
</html>
